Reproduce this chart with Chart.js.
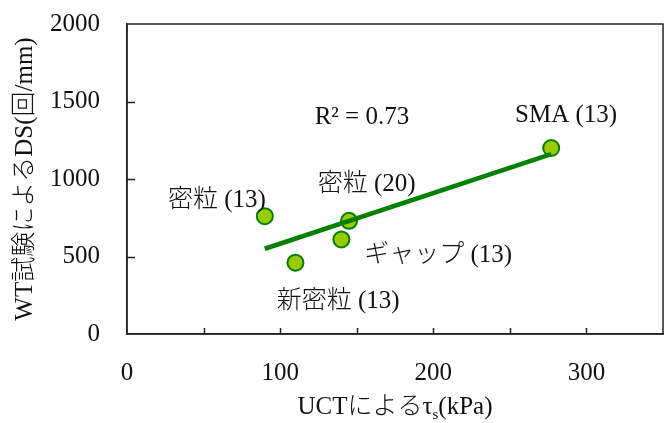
<!DOCTYPE html>
<html>
<head>
<meta charset="utf-8">
<script src="https://cdn.jsdelivr.net/npm/chart.js@4.4.1/dist/chart.umd.min.js"></script>
<style>
  html, body { margin: 0; padding: 0; background: #fff; overflow: hidden; }
  #wrap { width: 667px; height: 423px; }
  canvas { display: block; }
</style>
</head>
<body>
<div id="wrap"><canvas id="c" width="667" height="423"></canvas></div>
<script>
// ---- data ----
const pointNames = ['密粒 (13)', '新密粒 (13)', 'ギャップ (13)', '密粒 (20)', 'SMA (13)'];
const tauS = [90, 110, 140, 145, 277];          // UCTによるτs (kPa)
const dsValues = [760, 460, 610, 730, 1200];    // WT試験によるDS (回/mm)
const trendX = [90, 277];
const trendY = [550, 1160];
const xTicks = [0, 100, 200, 300];
const yTicks = [0, 500, 1000, 1500, 2000];
const rSquaredText = 'R² = 0.73';

// label anchors (data units), kept apart from the data
const labelAnchors = [
  { text: pointNames[0], x: 58.7, y: 860 },
  { text: pointNames[1], x: 137.9, y: 208 },
  { text: pointNames[2], x: 203.2, y: 510 },
  { text: pointNames[3], x: 156.5, y: 968 },
  { text: pointNames[4], x: 286.7, y: 1413 },
  { text: rSquaredText, x: 153.4, y: 1394 }
];

const FONT = "'Liberation Serif', 'Noto Sans CJK JP', serif";
const TEXT = '#111';

const frame = {
  id: 'frame',
  afterDatasetsDraw(chart) {
    const { ctx, chartArea: a, scales } = chart;
    ctx.save();
    ctx.strokeStyle = '#222';
    ctx.lineWidth = 1.5;
    // inward tick marks
    ctx.beginPath();
    for (let v = 50; v < 350; v += 50) {
      const px = Math.round(scales.x.getPixelForValue(v)) + 0.5;
      ctx.moveTo(px, a.bottom);
      ctx.lineTo(px, a.bottom - 6);
    }
    for (let v = 500; v < 2000; v += 500) {
      const py = Math.round(scales.y.getPixelForValue(v)) + 0.5;
      ctx.moveTo(a.left, py);
      ctx.lineTo(a.left + 8, py);
    }
    ctx.stroke();
    ctx.strokeRect(a.left, a.top, a.right - a.left, a.bottom - a.top);

    // annotations
    ctx.fillStyle = TEXT;
    ctx.font = '300 25px ' + FONT;
    ctx.textAlign = 'center';
    ctx.textBaseline = 'middle';
    labelAnchors.forEach(l => {
      ctx.fillText(l.text, scales.x.getPixelForValue(l.x), scales.y.getPixelForValue(l.y));
    });

    // x axis title with subscript
    const parts = [
      { t: 'UCTによるτ', size: 25, dy: 0 },
      { t: 's', size: 15, dy: 8 },
      { t: '(kPa)', size: 25, dy: 0 }
    ];
    let total = 0;
    parts.forEach(p => { ctx.font = '300 ' + p.size + 'px ' + FONT; p.w = ctx.measureText(p.t).width; total += p.w; });
    let x = (a.left + a.right) / 2 - total / 2;
    const yb = 407;
    ctx.textAlign = 'left';
    parts.forEach(p => {
      ctx.font = '300 ' + p.size + 'px ' + FONT;
      ctx.fillText(p.t, x, yb + p.dy);
      x += p.w;
    });
    ctx.restore();
  }
};

new Chart(document.getElementById('c'), {
  type: 'scatter',
  data: {
    datasets: [
      {
        type: 'line',
        data: trendX.map((x, i) => ({ x, y: trendY[i] })),
        borderColor: '#008000',
        borderWidth: 4.5,
        pointRadius: 0,
        fill: false,
        order: 0
      },
      {
        data: tauS.map((x, i) => ({ x, y: dsValues[i] })),
        backgroundColor: '#99cc00',
        borderColor: '#008000',
        borderWidth: 2,
        pointRadius: 8,
        order: 1
      }
    ]
  },
  options: {
    responsive: false,
    animation: false,
    devicePixelRatio: 1,
    layout: { autoPadding: false, padding: { top: 24, right: 4, bottom: 0, left: 0 } },
    plugins: { legend: { display: false }, tooltip: { enabled: false } },
    scales: {
      x: {
        type: 'linear',
        min: 0, max: 350,
        afterFit(s) { s.height = 89; s.paddingLeft = 0; s.paddingRight = 0; },
        afterBuildTicks(s) { s.ticks = xTicks.map(v => ({ value: v })); },
        grid: { display: false, drawTicks: false },
        border: { display: true, color: '#222', width: 1.5 },
        ticks: { color: TEXT, font: { family: FONT, size: 25 }, padding: 24, maxRotation: 0, autoSkip: false, callback: v => String(v) }
      },
      y: {
        type: 'linear',
        min: 0, max: 2000,
        afterFit(s) { s.width = 127; s.paddingTop = 0; s.paddingBottom = 0; },
        afterBuildTicks(s) { s.ticks = yTicks.map(v => ({ value: v })); },
        grid: { display: false, drawTicks: false },
        border: { display: true, color: '#222', width: 1.5 },
        ticks: { color: TEXT, font: { family: FONT, size: 25 }, padding: 27, callback: v => String(v) },
        title: {
          display: true,
          text: 'WT試験によるDS(回/mm)',
          color: TEXT,
          font: { family: FONT, size: 25, weight: 300 },
          padding: { top: 10, bottom: 0 }
        }
      }
    }
  },
  plugins: [frame]
});
</script>
</body>
</html>
